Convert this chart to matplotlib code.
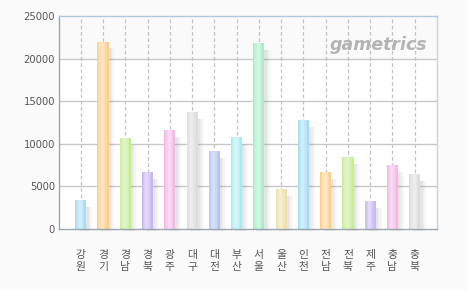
import matplotlib
matplotlib.use("Agg")
import matplotlib.pyplot as plt
import numpy as np

categories = ["강원", "경기", "경남", "경북", "광주", "대구", "대전", "부산",
              "서울", "울산", "인천", "전남", "전북", "제주", "충남", "충북"]
values = [3400, 22000, 10700, 6700, 11600, 13700, 9150, 10800,
          21800, 4700, 12800, 6700, 8450, 3300, 7500, 6450]
palette = ["#a6dcf6", "#fdcf88", "#c6ec96", "#c9b6f6", "#f6b6e8",
           "#dcdcdc", "#b6c2f2", "#a6ecf2", "#a6eec6", "#f0e0a6"]
yticks = [0, 5000, 10000, 15000, 20000, 25000]

plt.rcParams['font.family'] = ['Noto Sans CJK KR', 'DejaVu Sans']

fig = plt.figure(figsize=(4.68, 2.90), dpi=100, facecolor="#fbfbfb")
W, H = 468, 290
left, right, top, bottom = 58.5, 437, 16, 229
ax = fig.add_axes([left / W, 1 - bottom / H, (right - left) / W, (bottom - top) / H])
ax.set_facecolor("white")

x = np.arange(len(categories))
ax.set_xlim(-1, len(categories))
ax.set_ylim(0, 25000)

ax.axhspan(20000, 25000, color="#fafafa", zorder=0)
for yt in yticks[1:-1]:
    ax.axhline(yt, color="#c8c8c8", lw=1, zorder=1)
for xi in x:
    ax.axvline(xi, color="#c4c4c4", lw=0.9, ls=(0, (3, 2)), zorder=1)

colors = [palette[i % len(palette)] for i in range(len(categories))]
vals = np.array(values)

# shadows
for dx, a in [(0.10, 0.07), (0.16, 0.06), (0.22, 0.05), (0.28, 0.035)]:
    ax.bar(x + dx, vals - 600, bottom=-200, width=0.5, color="#888888", alpha=a,
           zorder=2, linewidth=0, clip_on=False)
# bars
ax.bar(x, vals, width=0.5, color=colors, zorder=3, linewidth=0)
for w, a in [(0.38, 0.18), (0.26, 0.2), (0.14, 0.22)]:
    ax.bar(x - 0.03, vals, width=w, color="white", alpha=a, zorder=4, linewidth=0)

ax.set_yticks(yticks)
ax.set_yticklabels([str(v) for v in yticks], fontsize=7.2, color="#555555",
                   family=["DejaVu Sans"])
ax.set_xticks(x)
ax.set_xticklabels(["\n".join(c) for c in categories], fontsize=7.8, color="#555555",
                   linespacing=1.3)
ax.tick_params(axis="both", length=0)
ax.tick_params(axis="y", pad=2.5)
ax.tick_params(axis="x", pad=15)

ax.spines["left"].set_color("#9aa6b2")
ax.spines["bottom"].set_color("#9aa6b2")
ax.spines["top"].set_color("#b4c8dc")
ax.spines["right"].set_color("#c8d2dc")
for s in ax.spines.values():
    s.set_linewidth(1)
    s.set_zorder(5)

ax.text(0.975, 0.865, "gametrics", transform=ax.transAxes, ha="right", va="center",
        fontsize=12.5, fontweight="bold", style="italic", color="#b4b4b4",
        family=["DejaVu Sans"], zorder=2)

fig.savefig("out.png", dpi=100, facecolor=fig.get_facecolor())
